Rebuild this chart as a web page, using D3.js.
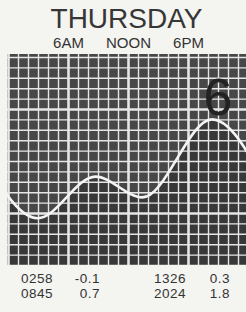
<!DOCTYPE html>
<html>
<head>
<meta charset="utf-8">
<script src="https://cdn.jsdelivr.net/npm/d3@7"></script>
<style>
  html, body { margin: 0; padding: 0; background: #f4f4f1; }
  svg { display: block; }
  text { font-family: "Liberation Sans", Arial, sans-serif; }
</style>
</head>
<body>
<svg id="chart" width="246" height="312"></svg>
<script>
// ---- data ----
const dayLabel = "THURSDAY";
const dateNumber = "6";
const hourTickValues = [6, 12, 18];
const hourTickLabels = ["6AM", "NOON", "6PM"];
const tideTimes = ["0258", "0845", "1326", "2024"];
const tideHeights = [-0.1, 0.7, 0.3, 1.8];
// extremes just outside the day (previous evening high, next early low)
const prevExtreme = { hour: -3.3, height: 1.4 };
const nextExtreme = { hour: 26.8, height: 0.1 };

// ---- layout ----
const grid = { left: 7, right: 246, top: 54, bottom: 265 };
const svg = d3.select("#chart");

const x = d3.scaleLinear().domain([0, 24]).range([8, 248]);
const y = d3.scaleLinear().domain([-1, 3]).range([265, 57]);

const toHour = s => +s.slice(0, 2) + (+s.slice(2)) / 60;
const extremes = [{ hour: prevExtreme.hour, height: prevExtreme.height }]
  .concat(tideTimes.map((t, i) => ({ hour: toHour(t), height: tideHeights[i] })))
  .concat([{ hour: nextExtreme.hour, height: nextExtreme.height }]);

// title
svg.append("text")
  .attr("x", 126.5).attr("y", 28)
  .attr("text-anchor", "middle")
  .attr("font-size", 28)
  .attr("fill", "#363636")
  .text(dayLabel);

// hour labels via axis
const hourAxis = d3.axisTop(x)
  .tickValues(hourTickValues)
  .tickFormat((d, i) => hourTickLabels[i])
  .tickSize(0).tickPadding(0);
const ha = svg.append("g").attr("transform", "translate(0,48)").call(hourAxis);
ha.select(".domain").remove();
ha.selectAll("text").attr("font-size", 15).attr("fill", "#333")
  .attr("font-family", "'Liberation Sans', Arial, sans-serif").attr("dy", 0);

// clip
svg.append("defs").append("clipPath").attr("id", "gclip")
  .append("rect")
  .attr("x", grid.left).attr("y", grid.top)
  .attr("width", grid.right - grid.left).attr("height", grid.bottom - grid.top);

const g = svg.append("g").attr("clip-path", "url(#gclip)");

// background
g.append("rect")
  .attr("x", grid.left).attr("y", grid.top)
  .attr("width", grid.right - grid.left).attr("height", grid.bottom - grid.top)
  .attr("fill", "#474747");

// darker water area
const area = d3.area().x(d => x(d.hour)).y0(grid.bottom + 5).y1(d => y(d.height))
  .curve(d3.curveMonotoneX);
g.append("path").datum(extremes).attr("d", area).attr("fill", "#000").attr("opacity", 0.2);

// grid lines via axes
const hourLines = d3.range(0, 25, 1);
const thickHours = [0, 6, 12, 18, 24];
const levelLines = d3.range(-10, 31, 2).map(v => v / 10);
const thickLevels = [0, 2];

const vAxis = d3.axisBottom(x).tickValues(hourLines).tickSize(grid.bottom - grid.top).tickFormat("");
const vg = g.append("g").attr("transform", `translate(0,${grid.top})`).call(vAxis);
vg.select(".domain").remove();
vg.selectAll(".tick line")
  .attr("stroke", "#e6e6e6")
  .attr("stroke-width", d => thickHours.includes(d) ? 2.6 : 1.4);

const hAxis = d3.axisRight(y).tickValues(levelLines).tickSize(grid.right - grid.left).tickFormat("");
const hg = g.append("g").attr("transform", `translate(${grid.left},0)`).call(hAxis);
hg.select(".domain").remove();
hg.selectAll(".tick line")
  .attr("stroke", "#e6e6e6")
  .attr("stroke-width", d => thickLevels.includes(Math.round(d * 10) / 10) ? 2.6 : 1.4);

// tide curve
const line = d3.line().x(d => x(d.hour)).y(d => y(d.height)).curve(d3.curveMonotoneX);
g.append("path").datum(extremes).attr("d", line)
  .attr("fill", "none").attr("stroke", "#f4f4f4").attr("stroke-width", 2.6);

// big date digit
svg.append("text")
  .attr("x", 218).attr("y", 115)
  .attr("text-anchor", "middle")
  .attr("font-size", 52)
  .attr("fill", "#222")
  .text(dateNumber);

// table of tides
const tableCols = [
  { timeX: 21, hX: 100, idxs: [0, 1] },
  { timeX: 154, hX: 230, idxs: [2, 3] }
];
const baselines = [283, 298];
tableCols.forEach(col => {
  col.idxs.forEach((k, r) => {
    svg.append("text").attr("x", col.timeX).attr("y", baselines[r])
      .attr("font-size", 13.5).attr("letter-spacing", 0.5).attr("fill", "#333").text(tideTimes[k]);
    svg.append("text").attr("x", col.hX).attr("y", baselines[r])
      .attr("text-anchor", "end")
      .attr("font-size", 13.5).attr("letter-spacing", 0.5).attr("fill", "#333")
      .text(d3.format(".1f")(tideHeights[k]).replace("−", "-"));
  });
});
</script>
</body>
</html>
